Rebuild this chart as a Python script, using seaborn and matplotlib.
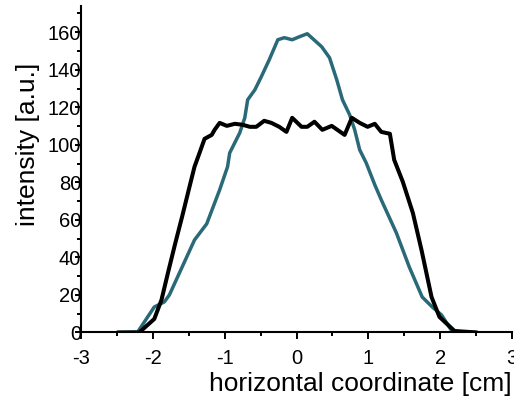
import numpy as np
import pandas as pd
import seaborn as sns
import matplotlib
matplotlib.use("Agg")
import matplotlib.pyplot as plt
from matplotlib.ticker import MultipleLocator

# profile, x in cm, intensity in a.u.
black_x = [-2.49, -2.19, -1.98, -1.88, -1.79, -1.69, -1.59, -1.49, -1.42, -1.35,
           -1.28, -1.18, -1.14, -1.07, -0.97, -0.86, -0.75, -0.65, -0.56, -0.45,
           -0.35, -0.24, -0.14, -0.06, 0.07, 0.15, 0.25, 0.36, 0.49, 0.67,
           0.77, 0.88, 0.99, 1.09, 1.18, 1.30, 1.36, 1.48, 1.62, 1.74,
           1.88, 1.99, 2.20, 2.51]
black_y = [0, 0, 7.2, 17.3, 31.7, 47.2, 62.1, 77.6, 88.3, 95.7,
           103.2, 105.3, 108.0, 111.7, 110.1, 111.2, 110.7, 109.6, 109.6, 112.8,
           111.7, 109.6, 106.9, 114.4, 109.6, 109.6, 112.3, 108.0, 110.1, 105.3,
           114.4, 111.7, 109.6, 111.2, 106.9, 105.9, 92.0, 80.3, 63.7, 44.0,
           18.9, 8.3, 0.8, 0]

teal_x = [-2.49, -2.21, -1.98, -1.84, -1.77, -1.42, -1.25, -1.07, -0.96, -0.93,
          -0.79, -0.72, -0.68, -0.58, -0.49, -0.38, -0.26, -0.17, -0.06, 0.04,
          0.15, 0.35, 0.46, 0.56, 0.64, 0.74, 0.81, 0.88, 0.97, 1.09,
          1.18, 1.39, 1.57, 1.75, 1.89, 2.02, 2.17, 2.51]
teal_y = [0, 0.3, 13.6, 16.3, 20.0, 49.3, 57.9, 76.0, 88.3, 95.7,
          106.4, 114.4, 124.0, 129.3, 136.3, 145.3, 156.0, 157.1, 156.0, 157.6,
          159.2, 152.3, 146.4, 134.7, 124.0, 116.0, 108.0, 97.3, 90.4, 78.7,
          70.7, 53.1, 34.9, 18.9, 13.6, 9.3, 0.3, 0]

x_ticks = [-3, -2, -1, 0, 1, 2, 3]
y_ticks = [0, 20, 40, 60, 80, 100, 120, 140, 160]

sns.set_style("ticks", {"axes.edgecolor": "black", "xtick.color": "black",
                        "ytick.color": "black", "text.color": "black",
                        "axes.labelcolor": "black"})
plt.rcParams['font.family'] = ['Liberation Sans', 'DejaVu Sans']

fig = plt.figure(figsize=(5.14, 3.98), dpi=100)
ax = fig.add_axes([0.1576, 0.1646, 0.8385, 0.8204])

teal = pd.DataFrame({"x": teal_x, "y": teal_y})
black = pd.DataFrame({"x": black_x, "y": black_y})
sns.lineplot(data=teal, x="x", y="y", ax=ax, color="#2a6a78", lw=2.5, sort=False)
sns.lineplot(data=black, x="x", y="y", ax=ax, color="black", lw=2.9, sort=False)

ax.set_xlim(-3, 3)
ax.set_ylim(0, 174)
ax.set_xticks(x_ticks)
ax.set_xticklabels([str(t) for t in x_ticks])
ax.set_yticks(y_ticks)
ax.set_yticklabels([str(t) for t in y_ticks])
ax.xaxis.set_minor_locator(MultipleLocator(0.5))
ax.yaxis.set_minor_locator(MultipleLocator(10))

sns.despine(ax=ax)
for s in ["left", "bottom"]:
    ax.spines[s].set_linewidth(1.5)
    ax.spines[s].set_color("black")
ax.tick_params(axis="both", which="both", direction="out", width=1.4,
               labelsize=14.5, colors="black")
ax.tick_params(axis="x", which="major", length=5, pad=7)
ax.tick_params(axis="x", which="minor", length=3)
ax.tick_params(axis="y", which="major", length=4, pad=-4)
ax.tick_params(axis="y", which="minor", length=3)
for lab in ax.get_xticklabels() + ax.get_yticklabels():
    lab.set_clip_on(False)

ax.set_xlabel("horizontal coordinate [cm]", fontsize=19, loc="right",
              labelpad=3, color="black")
ax.set_ylabel("intensity [a.u.]", fontsize=19, color="black")
ax.yaxis.set_label_coords(-0.095, 0.575)

fig.savefig("out.png", dpi=100)
